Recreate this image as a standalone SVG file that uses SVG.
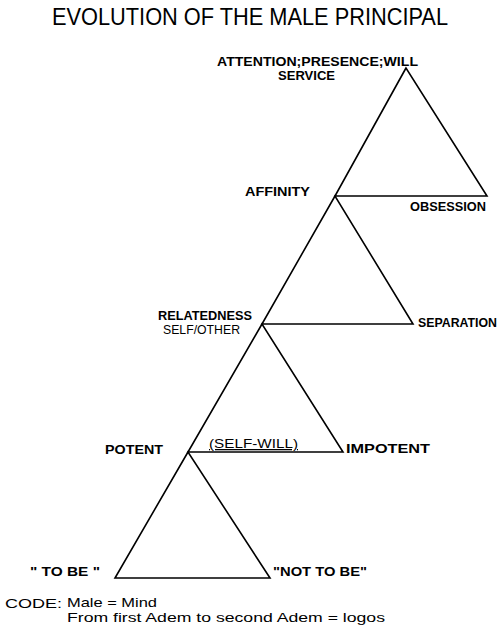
<svg xmlns="http://www.w3.org/2000/svg" width="500" height="638" viewBox="0 0 500 638">
<style>
.tri{fill:none;stroke:#000;stroke-width:1.6;stroke-linejoin:miter}
.title{font-family:"Liberation Sans",Arial,sans-serif;font-size:24px;fill:#000}
.lbl{font-family:"Liberation Sans",Arial,sans-serif;font-weight:bold;font-size:13px;fill:#000}
.thin{font-weight:normal}
.hand{font-family:"Liberation Sans",Arial,sans-serif;font-size:13px;fill:#000}
</style>
<rect width="500" height="638" fill="#fff"/>
<text class="title" x="52" y="25" textLength="396" lengthAdjust="spacingAndGlyphs">EVOLUTION OF THE MALE PRINCIPAL</text>
<g id="connectors">
<polygon id="tri1" class="tri" points="406,68 335,196 487,196"/>
<polygon id="tri2" class="tri" points="335,196 262,324 413,324"/>
<polygon id="tri3" class="tri" points="262,324 188,452 343,452"/>
<polygon id="tri4" class="tri" points="188,452 115,578 270,578"/>
</g>
<g id="n-attention"><text class="lbl" x="217" y="66" textLength="201" lengthAdjust="spacingAndGlyphs">ATTENTION;PRESENCE;WILL</text>
<text class="lbl" x="278" y="80" textLength="57" lengthAdjust="spacingAndGlyphs">SERVICE</text></g>
<g id="n-affinity"><text class="lbl" x="245" y="196" textLength="65" lengthAdjust="spacingAndGlyphs">AFFINITY</text></g>
<g id="n-obsession"><text class="lbl" x="410" y="211" textLength="76" lengthAdjust="spacingAndGlyphs">OBSESSION</text></g>
<g id="n-relatedness"><text class="lbl" x="158" y="320" textLength="94" lengthAdjust="spacingAndGlyphs">RELATEDNESS</text>
<text class="lbl thin" x="163" y="334" textLength="77" lengthAdjust="spacingAndGlyphs">SELF/OTHER</text></g>
<g id="n-separation"><text class="lbl" x="418" y="327" textLength="79" lengthAdjust="spacingAndGlyphs">SEPARATION</text></g>
<g id="n-potent"><text class="lbl" x="105" y="454" textLength="58" lengthAdjust="spacingAndGlyphs">POTENT</text></g>
<g id="n-selfwill"><text class="lbl thin" x="209" y="448" textLength="89" lengthAdjust="spacingAndGlyphs" text-decoration="underline">(SELF-WILL)</text></g>
<g id="n-impotent"><text class="lbl" x="346" y="453" textLength="84" lengthAdjust="spacingAndGlyphs">IMPOTENT</text></g>
<g id="n-tobe"><text class="lbl" x="30" y="576" textLength="70" lengthAdjust="spacingAndGlyphs">" TO BE "</text></g>
<g id="n-nottobe"><text class="lbl" x="273" y="576" textLength="94" lengthAdjust="spacingAndGlyphs">"NOT TO BE"</text></g>
<g id="code">
<text class="hand" x="5" y="608" textLength="57" lengthAdjust="spacingAndGlyphs">CODE:</text>
<text class="hand" x="67" y="607" textLength="90" lengthAdjust="spacingAndGlyphs">Male = Mind</text>
<text class="hand" x="67" y="622" textLength="318" lengthAdjust="spacingAndGlyphs">From first Adem to second Adem = logos</text>
</g>
</svg>
